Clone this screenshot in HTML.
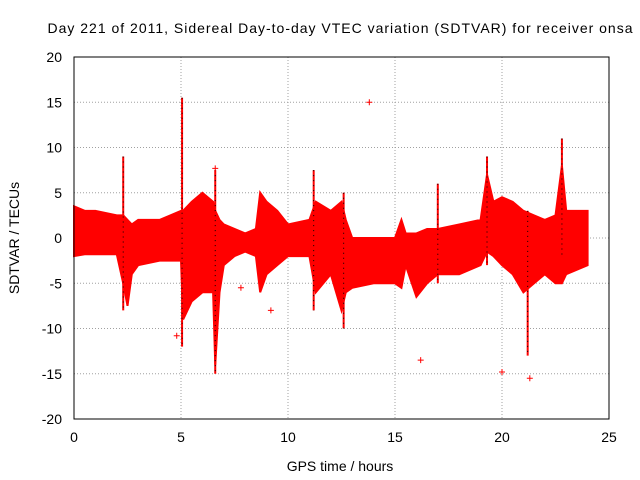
<!DOCTYPE html>
<html><head><meta charset="utf-8"><style>
body{margin:0;background:#fff}
svg{display:block;font-family:"Liberation Sans",sans-serif}
</style></head><body>
<svg id="chart" width="640" height="480">
<text x="340" y="33" font-size="14" text-anchor="middle" textLength="585">Day 221 of 2011, Sidereal Day-to-day VTEC variation (SDTVAR) for receiver onsa</text>
<text x="340" y="471" font-size="14" text-anchor="middle">GPS time / hours</text>
<text transform="translate(19,238) rotate(-90)" font-size="14" text-anchor="middle">SDTVAR / TECUs</text>
<g id="grid"></g><g id="ticks"></g><g id="data"></g>
<rect x="74" y="57" width="535" height="362" fill="none" stroke="#000"/>
</svg>
<script>
const xTicks=[0,5,10,15,20,25];
const yTicks=[-20,-15,-10,-5,0,5,10,15,20];
const bandT=[0,0.5,1,2,2.3,2.5,2.7,3,4,4.5,5,5.1,5.5,6,6.5,6.6,6.8,7,7.5,8,8.5,8.7,9,9.5,10,11,11.3,12,12.5,12.7,13,14,15,15.3,15.5,16,16.5,17,18,19,19.3,19.6,20,20.5,21,21.5,22,22.5,22.8,23,24];
const bandHi=[3.5,3,3,2.5,2.5,2,1.5,2,2,2.5,3,3,4,5,4,3,2,1.5,1,0.5,1,5,4,3,1.5,2,4,3,4,2,0,0,0,2,0.5,0.5,1,1,1.5,2,7,4,4.5,4,3,2.5,2,2.5,8,3,3];
const bandLo=[-2,-1.8,-1.8,-1.8,-5,-7.5,-4,-3,-2.5,-2.5,-2.5,-9,-7,-6,-6,-14,-6,-3,-2,-1.5,-2,-6,-4,-3,-2,-2,-6,-4,-8,-6,-5.5,-5,-5,-5.5,-3,-6.5,-5,-4,-4,-3,-1.5,-2,-3,-4,-6,-5,-4,-5,-5,-4,-3];
const spikeT=[2.3,5.05,6.6,11.2,12.6,17,19.3,21.2,22.8];
const spikeMin=[-8,-12,-15,-8,-10,-5,-3,-13,-2];
const spikeMax=[9,15.5,7.5,7.5,5,6,9,3,11];
const outT=[4.8,13.8,16.2,20,21.3,7.8,9.2,6.6];
const outV=[-10.8,15,-13.5,-14.8,-15.5,-5.5,-8,7.7];
const X=v=>74+v*535/25, Y=v=>238-v*181/20;
const NS="http://www.w3.org/2000/svg";
function mk(tag,attrs,parent){const e=document.createElementNS(NS,tag);for(const k in attrs)e.setAttribute(k,attrs[k]);document.getElementById(parent).appendChild(e);return e;}
xTicks.forEach(v=>{
 if(v>0&&v<25){const g=mk('line',{x1:X(v),x2:X(v),y1:57,y2:419,stroke:'#a0a0a0','stroke-dasharray':'1,2'},'grid');
 
 }
 const t=mk('text',{x:X(v),y:442,'font-size':14,'text-anchor':'middle'},'ticks');t.textContent=v;
 
 
});
yTicks.forEach(v=>{
 if(v>-20&&v<20){const g=mk('line',{x1:74,x2:609,y1:Y(v),y2:Y(v),stroke:'#a0a0a0','stroke-dasharray':'1,2'},'grid');
 
 }
 const t=mk('text',{x:62,y:Y(v)+5,'font-size':14,'text-anchor':'end'},'ticks');t.textContent=v;
 
 
});
let pts=bandT.map((t,i)=>X(t)+','+Y(bandHi[i]));
for(let i=bandT.length-1;i>=0;i--)pts.push(X(bandT[i])+','+Y(bandLo[i]));
const band=mk('polygon',{points:pts.join(' '),fill:'#ff0000',stroke:'#ff0000','stroke-width':2},'data');


spikeT.forEach((t,i)=>{
 const l=mk('line',{x1:X(t),x2:X(t),y1:Y(spikeMax[i]),y2:Y(spikeMin[i]),stroke:'#ff0000','stroke-width':2},'data');
 
 
 const b=mk('line',{x1:X(t),x2:X(t),y1:Y(spikeMax[i]),y2:Y(spikeMin[i]),stroke:'#000','stroke-width':1,'stroke-dasharray':'1,4'},'data');
 
 
});
outT.forEach((t,i)=>{
 const x=X(t),y=Y(outV[i]);
 const p=mk('path',{d:`M${x-3},${y}H${x+3}M${x},${y-3}V${y+3}`,stroke:'#ff0000','stroke-width':1},'data');
 
 
});
</script>
</body></html>
